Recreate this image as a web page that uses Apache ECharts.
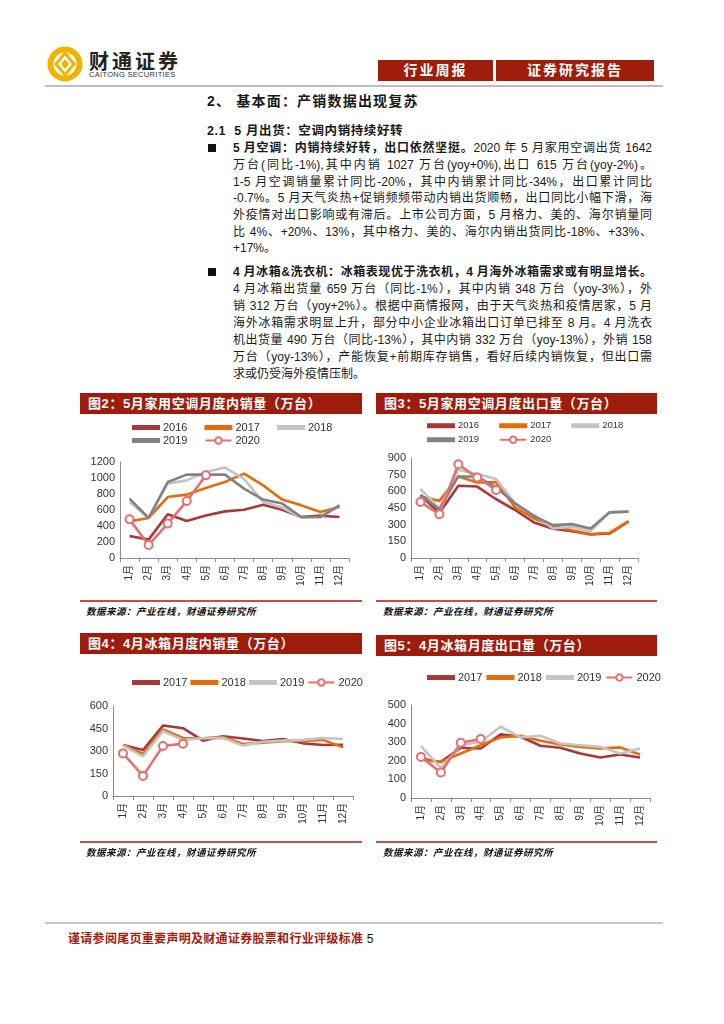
<!DOCTYPE html>
<html><head><meta charset="utf-8">
<script src="https://cdn.jsdelivr.net/npm/echarts@6/dist/echarts.min.js"></script>
<style>
body{margin:0;width:724px;height:1024px;position:relative;background:#fff;font-family:"Liberation Sans","Noto Sans CJK SC",sans-serif;color:#1a1a1a;overflow:hidden}
.abs{position:absolute}
.ln{position:absolute;left:233px;width:419px;font-size:12px;line-height:16px;height:16px;text-align:justify;text-align-last:justify}
.last{text-align-last:left}
.b{font-weight:bold}
.sq{position:absolute;left:208px;width:8px;height:8px;background:#111}
.tbar{position:absolute;height:21px;background:#9e1c0c;color:#fff;font-weight:bold;font-size:13px;line-height:21px;padding-left:8px;box-sizing:border-box;letter-spacing:0.6px}
.rule{position:absolute;height:2px;background:#c0504d}
.src{position:absolute;font-size:9.5px;font-weight:bold;color:#111;font-style:italic;letter-spacing:0.5px}
.chart{position:absolute;height:186px}
.hbox{position:absolute;top:60px;height:21px;background:#a01d0b;color:#fff;font-weight:bold;font-size:14px;line-height:21px;text-align:center;letter-spacing:2px}
</style></head>
<body>
<!-- header -->
<svg class="abs" style="left:47px;top:45px" width="36" height="38" viewBox="0 0 36 38">
  <circle cx="18" cy="19" r="14.5" fill="none" stroke="#f2b300" stroke-width="6"/>
  <path d="M18 8 L27 19 L18 30 L9 19 Z" fill="#fff" stroke="#f2b300" stroke-width="3"/>
  <path d="M18 14 L22 19 L18 24 L14 19 Z" fill="#f2b300"/>
</svg>
<div class="abs" style="left:89px;top:46px;font-size:20px;font-weight:bold;letter-spacing:3px;color:#222">财通证券</div>
<div class="abs" style="left:89px;top:70px;font-size:7.5px;color:#333;letter-spacing:0.3px">CAITONG SECURITIES</div>
<div class="hbox" style="left:378px;width:115px">行业周报</div>
<div class="hbox" style="left:496px;width:158px">证券研究报告</div>
<div class="abs" style="left:45px;top:85px;width:618px;height:2px;background:#bdbdbd"></div>

<!-- body text -->
<div class="abs b" style="left:207px;top:90px;font-size:14px;letter-spacing:1.2px">2、 基本面：产销数据出现复苏</div>
<div class="abs b" style="left:207px;top:120px;font-size:12.5px;letter-spacing:0.6px">2.1&nbsp; 5 月出货：空调内销持续好转</div>

<div class="sq" style="top:144px"></div>
<div class="ln" style="top:140px"><span class="b">5 月空调：内销持续好转，出口依然坚挺。</span>2020 年 5 月家用空调出货 1642</div>
<div class="ln" style="top:157px">万台(同比-1%),其中内销 1027 万台(yoy+0%),出口 615 万台(yoy-2%)。</div>
<div class="ln" style="top:174px">1-5 月空调销量累计同比-20%，其中内销累计同比-34%，出口累计同比</div>
<div class="ln" style="top:190px">-0.7%。5 月天气炎热+促销频频带动内销出货顺畅，出口同比小幅下滑，海</div>
<div class="ln" style="top:207px">外疫情对出口影响或有滞后。上市公司方面，5 月格力、美的、海尔销量同</div>
<div class="ln" style="top:224px">比 4%、+20%、13%，其中格力、美的、海尔内销出货同比-18%、+33%、</div>
<div class="ln last" style="top:240px">+17%。</div>

<div class="sq" style="top:268px"></div>
<div class="ln b" style="top:264px">4 月冰箱&amp;洗衣机：冰箱表现优于洗衣机，4 月海外冰箱需求或有明显增长。</div>
<div class="ln" style="top:281px">4 月冰箱出货量 659 万台（同比-1%），其中内销 348 万台（yoy-3%），外</div>
<div class="ln" style="top:298px">销 312 万台（yoy+2%）。根据中商情报网，由于天气炎热和疫情居家，5 月</div>
<div class="ln" style="top:315px">海外冰箱需求明显上升，部分中小企业冰箱出口订单已排至 8 月。4 月洗衣</div>
<div class="ln" style="top:332px">机出货量 490 万台（同比-13%），其中内销 332 万台（yoy-13%），外销 158</div>
<div class="ln" style="top:349px">万台（yoy-13%），产能恢复+前期库存销售，看好后续内销恢复，但出口需</div>
<div class="ln last" style="top:366px">求或仍受海外疫情压制。</div>

<!-- chart frames -->
<div class="tbar" style="left:80px;top:393px;width:282px">图2：5月家用空调月度内销量（万台）</div>
<div class="tbar" style="left:376px;top:393px;width:281px">图3：5月家用空调月度出口量（万台）</div>
<div class="tbar" style="left:80px;top:633px;width:282px">图4：4月冰箱月度内销量（万台）</div>
<div class="tbar" style="left:376px;top:635px;width:281px">图5：4月冰箱月度出口量（万台）</div>

<div id="c2" class="chart" style="left:80px;top:414px;width:285px"></div>
<div id="c3" class="chart" style="left:375px;top:414px;width:282px"></div>
<div id="c4" class="chart" style="left:80px;top:655px;width:285px"></div>
<div id="c5" class="chart" style="left:375px;top:656px;width:300px"></div>

<div class="rule" style="left:80px;top:600px;width:282px"></div>
<div class="rule" style="left:376px;top:600px;width:281px"></div>
<div class="rule" style="left:80px;top:841px;width:282px"></div>
<div class="rule" style="left:376px;top:841px;width:281px"></div>
<div class="src" style="left:86px;top:604px">数据来源：产业在线，财通证券研究所</div>
<div class="src" style="left:383px;top:604px">数据来源：产业在线，财通证券研究所</div>
<div class="src" style="left:86px;top:845px">数据来源：产业在线，财通证券研究所</div>
<div class="src" style="left:383px;top:845px">数据来源：产业在线，财通证券研究所</div>

<!-- footer -->
<div class="abs" style="left:45px;top:922px;width:618px;height:2px;background:#c8c8c8"></div>
<div class="abs" style="left:68px;top:929px;font-size:12px;color:#a3200f;font-weight:bold;letter-spacing:0.3px">谨请参阅尾页重要声明及财通证券股票和行业评级标准<span style="color:#111;font-weight:normal"> 5</span></div>

<script>
const months = ['1月','2月','3月','4月','5月','6月','7月','8月','9月','10月','11月','12月'];

// 图2 家用空调月度内销量（万台）
const acDom2016 = [275, 230, 546, 462, 530, 583, 604, 667, 604, 512, 530, 512];
const acDom2017 = [458, 500, 762, 792, 875, 950, 1054, 908, 730, 658, 575, 637];
const acDom2018 = [700, 500, 930, 970, 1075, 1130, 990, 700, 630, 505, 512, 658];
const acDom2019 = [742, 500, 950, 1042, 1042, 1042, 867, 730, 680, 512, 512, 658];
const acDom2020 = [483, 162, 430, 712, 1033];

// 图3 家用空调月度出口量（万台）
const acExp2016 = [565, 405, 650, 643, 529, 432, 320, 263, 242, 211, 220, 330];
const acExp2017 = [553, 514, 734, 680, 683, 456, 356, 287, 250, 215, 227, 332];
const acExp2018 = [622, 447, 795, 755, 710, 492, 387, 266, 281, 242, 411, 417];
const acExp2019 = [568, 438, 734, 734, 634, 492, 378, 296, 305, 266, 411, 417];
const acExp2020 = [504, 393, 843, 725, 613];

// 图4 冰箱月度内销量（万台）
const frDom2017 = [340, 306, 470, 452, 369, 398, 383, 367, 380, 351, 340, 342];
const frDom2018 = [340, 280, 443, 387, 385, 394, 347, 356, 365, 367, 374, 324];
const frDom2019 = [336, 264, 432, 374, 385, 387, 336, 362, 369, 374, 387, 380];
const frDom2020 = [284, 134, 333, 349];

// 图5 冰箱月度出口量（万台）
const frExp2017 = [212, 194, 270, 266, 342, 329, 281, 270, 239, 218, 234, 218];
const frExp2018 = [207, 194, 239, 284, 326, 335, 308, 288, 275, 266, 272, 234];
const frExp2019 = [279, 162, 284, 302, 383, 326, 335, 293, 284, 275, 239, 266];
const frExp2020 = [221, 137, 297, 317];

const C_RED = '#a5393b', C_ORG = '#e46c0a', C_LG = '#c4c4c4', C_DG = '#828282', C_PNK = '#e4716f';
const FONT = '"Liberation Sans", Arial, "Noto Sans CJK SC", sans-serif';
const BAR_ICON = 'path://M0,0 L26,0 L26,3 L0,3 Z';

function build(id, list, cfg) {
  const chart = echarts.init(document.getElementById(id), null, {renderer: 'canvas'});
  const markerOf = {};
  list.forEach(s => { markerOf[s.name] = !!s.marker; });
  const series = list.map(s => ({
    name: s.name, type: 'line', data: s.data,
    symbol: s.marker ? 'emptyCircle' : 'none', symbolSize: 8, showSymbol: !!s.marker,
    lineStyle: {width: 2.6, color: s.color},
    itemStyle: {color: s.color, borderColor: s.color, borderWidth: 2},
    emphasis: {disabled: true}, animation: false
  }));
  chart.setOption({
    animation: false,
    textStyle: {fontFamily: FONT},
    legend: cfg.legends.map(l => ({
      data: l.data.map(n => markerOf[n] ? {name: n} : {name: n, icon: BAR_ICON}),
      left: l.left, top: l.top, width: 290, padding: 0,
      itemWidth: 26, itemHeight: 8, itemGap: l.gap,
      selectedMode: false,
      textStyle: {fontSize: l.fs, color: '#333', fontFamily: FONT, padding: [0, 0, 0, -1]}
    })),
    grid: Object.assign({containLabel: false}, cfg.grid),
    xAxis: {
      type: 'category', data: months, boundaryGap: true,
      axisLine: {lineStyle: {color: '#8c8c8c', width: 1}},
      axisTick: {show: true, length: 4, lineStyle: {color: '#8c8c8c'}},
      axisLabel: {rotate: 90, fontSize: 10, color: '#333', margin: 7, fontFamily: FONT}
    },
    yAxis: {
      type: 'value', min: 0, max: cfg.max, interval: cfg.interval,
      axisLine: {show: true, lineStyle: {color: '#8c8c8c', width: 1}},
      axisTick: {show: false}, splitLine: {show: false},
      axisLabel: {fontSize: 11, color: '#333', margin: 5, fontFamily: FONT, formatter: v => String(v)}
    },
    series: series
  });
}

build('c2', [
  {name: '2016', data: acDom2016, color: C_RED},
  {name: '2017', data: acDom2017, color: C_ORG},
  {name: '2018', data: acDom2018, color: C_LG},
  {name: '2019', data: acDom2019, color: C_DG},
  {name: '2020', data: acDom2020, color: C_PNK, marker: true}
], {
  max: 1200, interval: 200,
  grid: {left: 40, top: 48, width: 229, height: 96},
  legends: [
    {data: ['2016', '2017', '2018'], left: 52, top: 8, gap: 17, fs: 11},
    {data: ['2019', '2020'], left: 52, top: 21, gap: 17, fs: 11}
  ]
});

build('c3', [
  {name: '2016', data: acExp2016, color: C_RED},
  {name: '2017', data: acExp2017, color: C_ORG},
  {name: '2018', data: acExp2018, color: C_LG},
  {name: '2019', data: acExp2019, color: C_DG},
  {name: '2020', data: acExp2020, color: C_PNK, marker: true}
], {
  max: 900, interval: 150,
  grid: {left: 36, top: 44, width: 227, height: 100},
  legends: [
    {data: ['2016', '2017', '2018'], left: 52, top: 7, gap: 20, fs: 9.5},
    {data: ['2019', '2020'], left: 52, top: 21, gap: 20, fs: 9.5}
  ]
});

build('c4', [
  {name: '2017', data: frDom2017, color: C_RED},
  {name: '2018', data: frDom2018, color: C_ORG},
  {name: '2019', data: frDom2019, color: C_LG},
  {name: '2020', data: frDom2020, color: C_PNK, marker: true}
], {
  max: 600, interval: 150,
  grid: {left: 33, top: 51, width: 240, height: 90},
  legends: [
    {data: ['2017', '2018', '2019', '2020'], left: 52, top: 22, gap: 3, fs: 11}
  ]
});

build('c5', [
  {name: '2017', data: frExp2017, color: C_RED},
  {name: '2018', data: frExp2018, color: C_ORG},
  {name: '2019', data: frExp2019, color: C_LG},
  {name: '2020', data: frExp2020, color: C_PNK, marker: true}
], {
  max: 500, interval: 100,
  grid: {left: 36, top: 49, width: 239, height: 93},
  legends: [
    {data: ['2017', '2018', '2019', '2020'], left: 52, top: 16, gap: 4, fs: 11}
  ]
});
</script>
</body></html>
